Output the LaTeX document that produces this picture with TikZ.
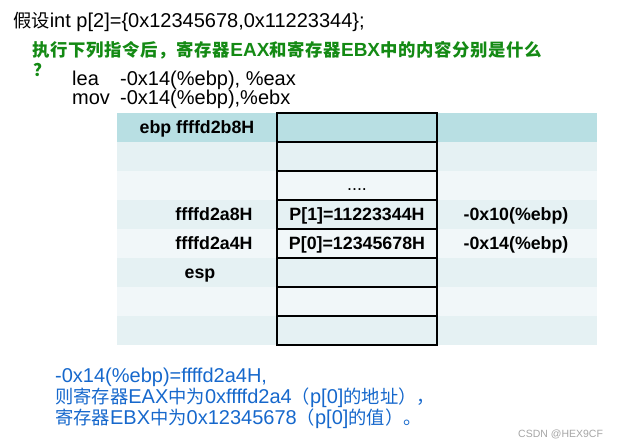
\documentclass[tikz,border=0pt]{standalone}
\usepackage{fontspec}
\setmainfont{Liberation Sans}
\newfontfamily\cjk[Scale=0.915]{Noto Sans CJK SC}
\newfontfamily\cjkask[Scale=0.915,LetterSpace=4]{Noto Sans CJK SC}
\newcommand{\zh}[1]{{\cjk #1}}
\newcommand{\zhask}[1]{{\cjkask #1}}
\usetikzlibrary{positioning}
\definecolor{bandhead}{RGB}{184,223,227}
\definecolor{banddark}{RGB}{229,241,243}
\definecolor{bandlite}{RGB}{241,247,249}
\definecolor{askgreen}{RGB}{20,138,20}
\definecolor{ansblue}{RGB}{22,104,204}
\definecolor{markgray}{RGB}{165,165,165}

\begin{document}
\begin{tikzpicture}[x=1pt,y=1pt,
  band/.style={inner sep=0pt,minimum width=480pt,minimum height=29pt},
  slot/.style={draw,line width=1.8pt,inner sep=0pt,minimum width=160pt,minimum height=29pt},
  lbl/.style={anchor=base,inner sep=0pt,font=\fontsize{17.8}{20}\selectfont\bfseries},
  txt/.style={anchor=base west,inner sep=0pt,font=\fontsize{20}{22}\selectfont},
  ask/.style={txt,text=askgreen,font=\fontsize{19}{22}\selectfont\bfseries},
  ans/.style={txt,text=ansblue}]
\useasboundingbox (0,0) rectangle (620,-446);
% stack rows and memory slots
\foreach \i/\c in {0/bandhead,1/banddark,2/bandlite,3/banddark,4/bandlite,5/banddark,6/bandlite,7/banddark}
  {\node[band,fill=\c] (r\i) at (357,-127.5-29*\i) {};}
\foreach \i in {0,...,7} {\node[slot] (s\i) at (r\i) {};}
% question
\node[txt] (decl) at (13,-28) {\zh{假设}int p[2]=\{0x12345678,0x11223344\};};
\node[ask] (q1) at (32,-57) {\zhask{执行下列指令后，寄存器}EAX\zhask{和寄存器}EBX\zhask{中的内容分别是什么}};
\node[ask] (q2) at (33,-77) {\zh{？}};
\node[txt] (lea) at (72,-86) {lea};
\node[txt] (leaop) at (120,-86) {-0x14(\%ebp), \%eax};
\node[txt] (mov) at (72,-105) {mov};
\node[txt] (movop) at (120,-105) {-0x14(\%ebp),\%ebx};
% labels in the stack
\node[lbl] (ebp) at (197,-134) {ebp ffffd2b8H};
\node[lbl] (dots) at (357,-191) {\mdseries ....};
\node[lbl] (a8) at (214,-220.5) {ffffd2a8H};
\node[lbl] (p1) at (357,-220.5) {P[1]=11223344H};
\node[lbl] (o10) at (516,-220.5) {-0x10(\%ebp)};
\node[lbl] (a4) at (214,-249.5) {ffffd2a4H};
\node[lbl] (p0) at (357,-249.5) {P[0]=12345678H};
\node[lbl] (o14) at (516,-249.5) {-0x14(\%ebp)};
\node[lbl] (esp) at (200,-278.5) {esp};
% answer
\node[ans] (a1) at (55,-382) {-0x14(\%ebp)=ffffd2a4H,};
\node[ans] (a2) at (55,-403) {\zh{则寄存器}EAX\zh{中为}0xffffd2a4\zh{（}p[0]\zh{的地址），}};
\node[ans] (a3) at (55,-424) {\zh{寄存器}EBX\zh{中为}0x12345678\zh{（}p[0]\zh{的值）。}};
\node[txt,text=markgray,font=\fontsize{10.5}{12}\selectfont] (mark) at (518,-437) {CSDN @HEX9CF};
\end{tikzpicture}
\end{document}
